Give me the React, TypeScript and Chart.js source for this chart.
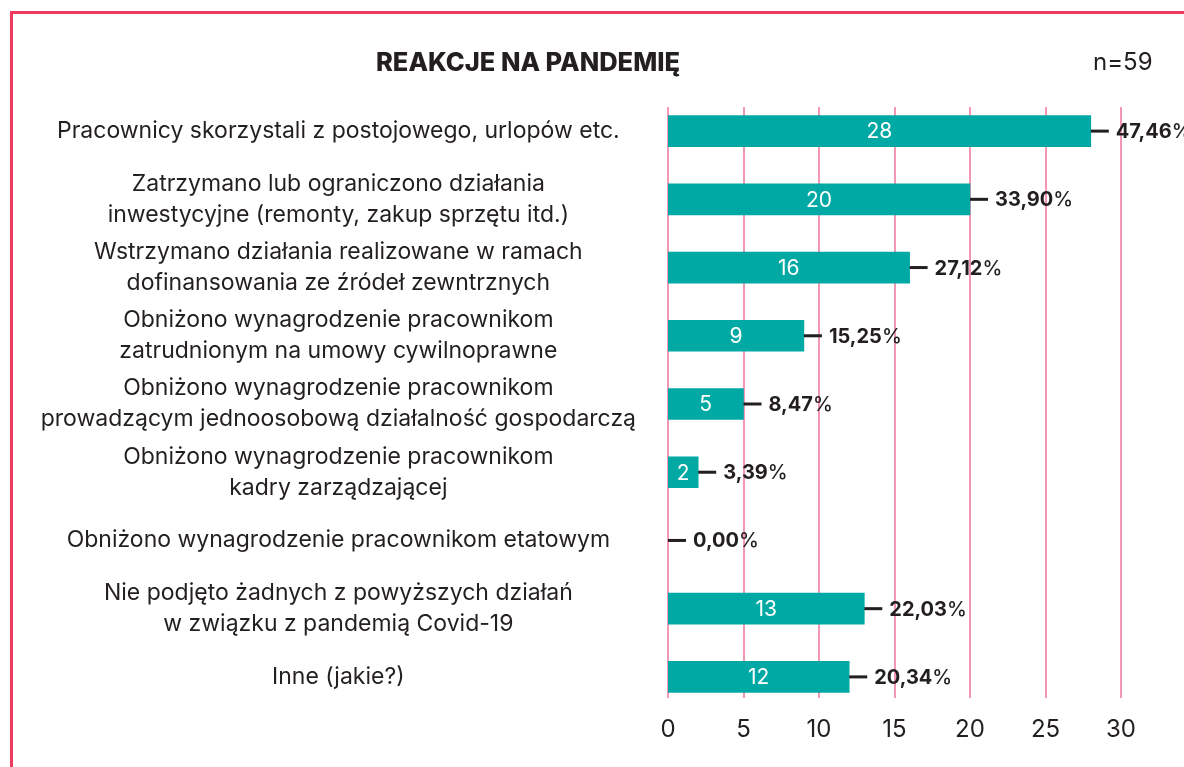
import React, { useEffect, useRef } from 'react';
import { Chart, registerables } from 'chart.js';

Chart.register(...registerables);

// ---- data ----
const categories: string[][] = [
  ['Pracownicy skorzystali z postojowego, urlopów etc.'],
  ['Zatrzymano lub ograniczono działania', 'inwestycyjne (remonty, zakup sprzętu itd.)'],
  ['Wstrzymano działania realizowane w ramach', 'dofinansowania ze źródeł zewntrznych'],
  ['Obniżono wynagrodzenie pracownikom', 'zatrudnionym na umowy cywilnoprawne'],
  ['Obniżono wynagrodzenie pracownikom', 'prowadzącym jednoosobową działalność gospodarczą'],
  ['Obniżono wynagrodzenie pracownikom', 'kadry zarządzającej'],
  ['Obniżono wynagrodzenie pracownikom etatowym'],
  ['Nie podjęto żadnych z powyższych działań', 'w związku z pandemią Covid-19'],
  ['Inne (jakie?)'],
];
const counts: number[] = [28, 20, 16, 9, 5, 2, 0, 13, 12];
const percentLabels: string[] = ['47,46%', '33,90%', '27,12%', '15,25%', '8,47%', '3,39%', '0,00%', '22,03%', '20,34%'];
const xTicks: number[] = [0, 5, 10, 15, 20, 25, 30];
const chartTitle = 'REAKCJE NA PANDEMIĘ';
const sampleSize = 'n=59';

// ---- styles ----
const FONT = 'Inter, "Liberation Sans", Arial, sans-serif';
const TEXT = '#231f20';
const TEAL = '#00a9a4';
const GRID = '#f397b2';
const FRAME = '#ef3a5d';

const shortGrid = {
  id: 'shortGrid',
  beforeDatasetsDraw(chart: any) {
    const { ctx, chartArea, scales } = chart;
    ctx.save();
    ctx.strokeStyle = GRID;
    ctx.lineWidth = 2;
    for (const v of xTicks) {
      const px = Math.round(scales.x.getPixelForValue(v));
      ctx.beginPath();
      ctx.moveTo(px, chartArea.top + 10);
      ctx.lineTo(px, chartArea.bottom - 13);
      ctx.stroke();
    }
    ctx.restore();
  },
};

const barLabels = {
  id: 'barLabels',
  afterDatasetsDraw(chart: any) {
    const { ctx } = chart;
    const meta = chart.getDatasetMeta(0);
    ctx.save();
    meta.data.forEach((bar: any, i: number) => {
      const v = counts[i];
      const x = bar.x;
      const y = bar.y;
      const base = bar.base;
      if (v > 0) {
        ctx.fillStyle = '#ffffff';
        ctx.font = `21px ${FONT}`;
        ctx.textAlign = 'center';
        ctx.textBaseline = 'middle';
        ctx.fillText(String(v), (x + base) / 2, y + 1);
      }
      // dash
      ctx.fillStyle = TEXT;
      ctx.fillRect(x, y - 1.5, 18, 3);
      // percentage
      const txt = percentLabels[i];
      const num = txt.replace('%', '');
      ctx.textAlign = 'left';
      ctx.textBaseline = 'middle';
      ctx.font = `bold 20px ${FONT}`;
      ctx.fillText(num, x + 25, y + 1);
      const w = ctx.measureText(num).width;
      ctx.font = `500 20px ${FONT}`;
      ctx.fillText('%', x + 25 + w, y + 1);
    });
    ctx.restore();
  },
};

export default function App() {
  const ref = useRef<HTMLCanvasElement>(null);

  useEffect(() => {
    const canvas = ref.current;
    if (!canvas) return;
    const chart = new Chart(canvas, {
      type: 'bar',
      data: {
        labels: categories,
        datasets: [
          {
            data: counts,
            backgroundColor: counts.map((v) => (v > 0 ? TEAL : 'rgba(0,0,0,0)')),
            borderWidth: 0,
            barThickness: 31,
          },
        ],
      },
      options: {
        indexAxis: 'y',
        responsive: false,
        animation: false,
        events: [],
        layout: { padding: { left: 0, right: 63, top: 97, bottom: 16 } },
        plugins: {
          legend: { display: false },
          tooltip: { enabled: false },
          title: { display: false },
        },
        scales: {
          x: {
            type: 'linear',
            min: 0,
            max: 30,
            afterBuildTicks: (s: any) => {
              s.ticks = xTicks.map((v) => ({ value: v }));
            },
            afterFit: (s: any) => {
              s.height = 40;
            },
            grid: { display: false, drawTicks: false },
            border: { display: false },
            ticks: {
              color: TEXT,
              padding: 4,
              font: { family: FONT, size: 24 },
            },
          },
          y: {
            type: 'category',
            afterFit: (s: any) => {
              s.width = 668;
            },
            grid: { display: false, drawTicks: false },
            border: { display: false },
            ticks: {
              autoSkip: false,
              crossAlign: 'center',
              padding: 32,
              color: TEXT,
              font: { family: FONT, size: 23, lineHeight: 31 / 23 },
            },
          },
        },
      },
      plugins: [shortGrid, barLabels],
    } as any);
    return () => chart.destroy();
  }, []);

  return (
    <div
      style={{
        position: 'fixed',
        left: 0,
        top: 0,
        width: 1184,
        height: 767,
        overflow: 'hidden',
        background: '#ffffff',
      }}
    >
      <div
        style={{
          position: 'absolute',
          left: 10,
          top: 11,
          width: 1400,
          height: 1000,
          borderLeft: `3px solid ${FRAME}`,
          borderTop: `3px solid ${FRAME}`,
        }}
      />
      <canvas ref={ref} width={1184} height={767} style={{ position: 'absolute', left: 0, top: 0 }} />
      <div
        style={{
          position: 'absolute',
          left: 0,
          width: 1056,
          top: 48,
          textAlign: 'center',
          fontFamily: FONT,
          fontWeight: 800,
          fontSize: 25.5,
          lineHeight: '28px',
          color: TEXT,
        }}
      >
        {chartTitle}
      </div>
      <div
        style={{
          position: 'absolute',
          left: 1093,
          top: 48,
          fontFamily: FONT,
          fontSize: 24,
          lineHeight: '28px',
          color: TEXT,
        }}
      >
        {sampleSize}
      </div>
    </div>
  );
}
